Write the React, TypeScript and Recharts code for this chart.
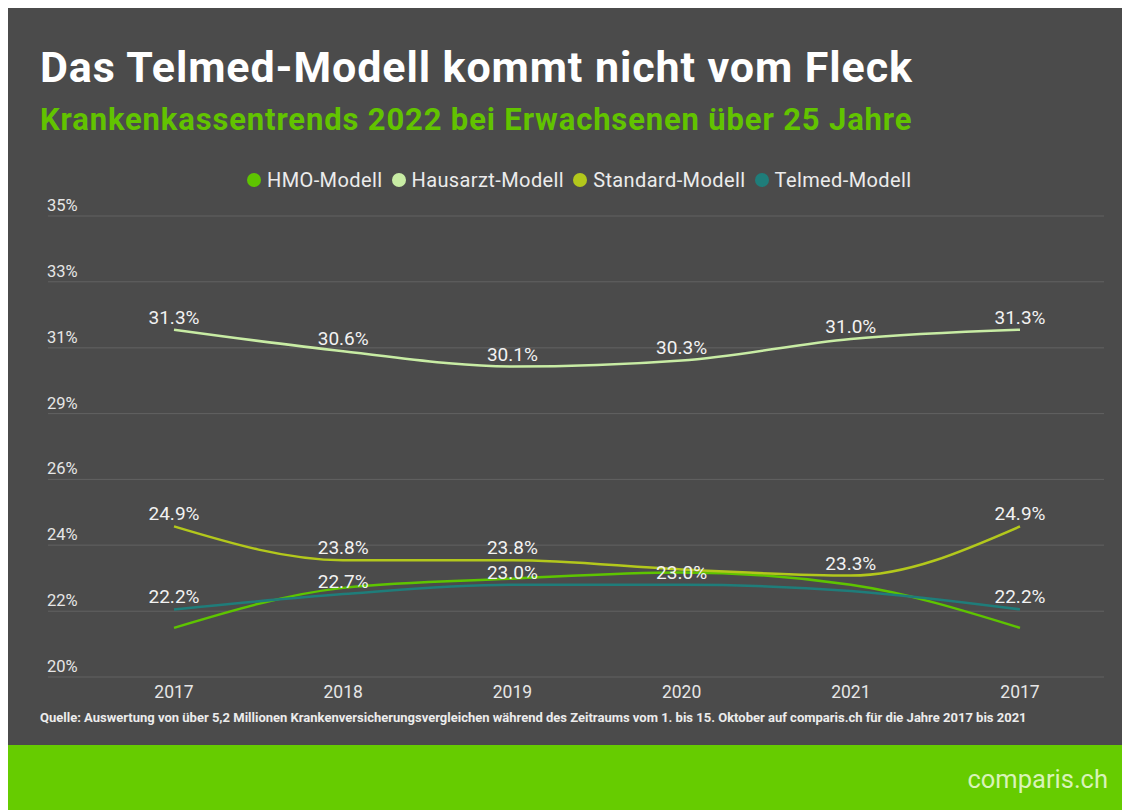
import { CartesianGrid, LabelList, Line, LineChart, XAxis, YAxis } from "recharts";

const years = ["2017", "2018", "2019", "2020", "2021", "2017"];
const hmo = [21.6, 22.9, 23.2, 23.4, 23.0, 21.6];
const hausarzt = [31.3, 30.6, 30.1, 30.3, 31.0, 31.3];
const standard = [24.9, 23.8, 23.8, 23.5, 23.3, 24.9];
const telmed = [22.2, 22.7, 23.0, 23.0, 22.8, 22.2];
const yTicks = [20, 22.14, 24.29, 26.43, 28.57, 30.71, 32.86, 35];

// labels hidden in the original because they overlap
const hiddenLabels: Record<string, number[]> = {
  hmo: [0, 1, 2, 3, 4, 5],
  hausarzt: [],
  standard: [3],
  telmed: [4],
};

const data = years.map((year, i) => ({
  year,
  hmo: hmo[i],
  hausarzt: hausarzt[i],
  standard: standard[i],
  telmed: telmed[i],
}));

const series = [
  { key: "hmo", name: "HMO-Modell", color: "#5ec400" },
  { key: "hausarzt", name: "Hausarzt-Modell", color: "#c8eca4" },
  { key: "standard", name: "Standard-Modell", color: "#b3c81c" },
  { key: "telmed", name: "Telmed-Modell", color: "#1f7d7a" },
];

const FONT = "Roboto, 'Noto Sans', sans-serif";

const renderYTick = (props: any) => {
  const { y, payload } = props;
  return (
    <text x={39} y={y - 5} fill="#e6e6e6" fontSize={16.5} fontFamily={FONT} textAnchor="start">
      {Math.round(payload.value)}%
    </text>
  );
};

function makeLabel(key: string) {
  return (props: any) => {
    const { x, y, value, index } = props;
    if (hiddenLabels[key].includes(index)) return null;
    return (
      <text x={x} y={y - 6} fill="#f2f2f2" fontSize={19} fontFamily={FONT} textAnchor="middle">
        {value.toFixed(1)}%
      </text>
    );
  };
}

export default function App() {
  return (
    <div
      style={{
        position: "relative",
        width: 1114,
        height: 802,
        background: "#4b4b4b",
        fontFamily: FONT,
        overflow: "hidden",
      }}
    >
      <div
        style={{
          position: "absolute",
          left: 32,
          top: 38,
          fontSize: 43,
          lineHeight: "43px",
          fontWeight: 700,
          letterSpacing: 0.9,
          color: "#ffffff",
          whiteSpace: "nowrap",
        }}
      >
        Das Telmed-Modell kommt nicht vom Fleck
      </div>
      <div
        style={{
          position: "absolute",
          left: 32,
          top: 96,
          fontSize: 31,
          lineHeight: "31px",
          fontWeight: 700,
          letterSpacing: 0.85,
          color: "#62c300",
          whiteSpace: "nowrap",
        }}
      >
        Krankenkassentrends 2022 bei Erwachsenen über 25 Jahre
      </div>

      <div
        style={{
          position: "absolute",
          left: 239,
          top: 160,
          display: "flex",
          alignItems: "center",
          gap: 9,
          fontSize: 20,
          color: "#ececec",
          whiteSpace: "nowrap",
        }}
      >
        {series.map((s) => (
          <div key={s.key} style={{ display: "flex", alignItems: "center", gap: 6 }}>
            <span
              style={{
                display: "inline-block",
                width: 14,
                height: 14,
                borderRadius: 7,
                background: s.color,
              }}
            />
            <span style={{ letterSpacing: 0.4 }}>{s.name}</span>
          </div>
        ))}
      </div>

      <div style={{ position: "absolute", left: 0, top: 0 }}>
        <LineChart width={1114} height={740} data={data} margin={{ top: 208, right: 18, bottom: 41, left: 39 }}>
          <CartesianGrid vertical={false} stroke="#626262" strokeWidth={1} />
          <XAxis
            dataKey="year"
            axisLine={false}
            tickLine={false}
            height={30}
            tickMargin={3}
            padding={{ left: 126, right: 84 }}
            tick={{ fill: "#e6e6e6", fontSize: 17.5, fontFamily: FONT }}
            interval={0}
          />
          <YAxis
            width={1}
            domain={[20, 35]}
            ticks={yTicks}
            interval={0}
            axisLine={false}
            tickLine={false}
            tick={renderYTick}
          />
          {series.map((s) => (
            <Line
              key={s.key}
              type="monotone"
              dataKey={s.key}
              name={s.name}
              stroke={s.color}
              strokeWidth={2.5}
              dot={false}
              activeDot={false}
              isAnimationActive={false}
            >
              <LabelList dataKey={s.key} content={makeLabel(s.key)} />
            </Line>
          ))}
        </LineChart>
      </div>

      <div
        style={{
          position: "absolute",
          left: 32,
          top: 702,
          fontSize: 13,
          fontWeight: 700,
          color: "#ececec",
          whiteSpace: "nowrap",
        }}
      >
        Quelle: Auswertung von über 5,2 Millionen Krankenversicherungsvergleichen während des Zeitraums vom 1. bis 15. Oktober auf comparis.ch für die Jahre 2017 bis 2021
      </div>

      <div
        style={{
          position: "absolute",
          left: 0,
          top: 737,
          width: 1114,
          height: 70,
          background: "#66cc00",
        }}
      >
        <div
          style={{
            position: "absolute",
            right: 14,
            top: 21,
            fontSize: 25.5,
            lineHeight: "26px",
            color: "#d8f3b8",
          }}
        >
          comparis.ch
        </div>
      </div>
    </div>
  );
}
